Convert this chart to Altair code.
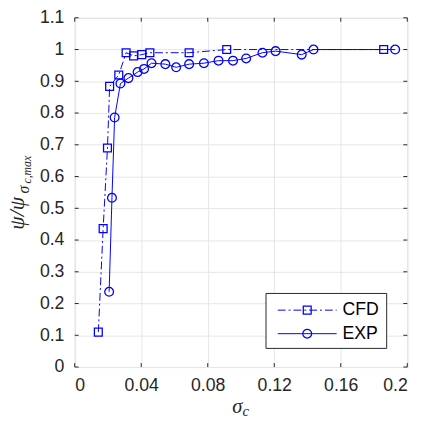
import altair as alt
import pandas as pd

# Data
cfd_x = [0.0142, 0.0171, 0.0197, 0.0210, 0.0265, 0.0309, 0.0354, 0.0403, 0.0452, 0.0688, 0.0914, 0.1858]
cfd_y = [0.110, 0.436, 0.690, 0.884, 0.920, 0.990, 0.980, 0.984, 0.990, 0.990, 1.000, 1.000]
exp_x = [0.0207, 0.0224, 0.0240, 0.0275, 0.0323, 0.0378, 0.0417, 0.0462, 0.0545, 0.0610, 0.0688,
         0.0777, 0.0865, 0.0952, 0.1031, 0.1129, 0.1208, 0.1365, 0.1436, 0.1927]
exp_y = [0.237, 0.533, 0.786, 0.893, 0.910, 0.929, 0.939, 0.957, 0.954, 0.944, 0.954,
         0.957, 0.965, 0.965, 0.972, 0.990, 0.995, 0.984, 1.000, 1.000]
x_ticks = [0, 0.04, 0.08, 0.12, 0.16, 0.2]
y_ticks = [0, 0.1, 0.2, 0.3, 0.4, 0.5, 0.6, 0.7, 0.8, 0.9, 1.0, 1.1]

W, H = 339, 356
BLUE = "#0000ff"
AX = "#262626"

cfd = pd.DataFrame({"x": cfd_x, "y": cfd_y, "i": range(len(cfd_x))})
exp = pd.DataFrame({"x": exp_x, "y": exp_y, "i": range(len(exp_x))})
xt = pd.DataFrame({"x": x_ticks})
yt = pd.DataFrame({"y": y_ticks})

xs = alt.Scale(domain=[0, 0.2], nice=False, zero=False)
ys = alt.Scale(domain=[0, 1.1], nice=False, zero=False)

common = dict(format="~g", grid=True, ticks=False, domain=False, labelOverlap=False,
              labelFontSize=18, labelFont="Liberation Sans", labelColor=AX,
              gridColor="#e6e6e6", title=None)
xax = alt.Axis(values=x_ticks, labelPadding=10, **common)
yax = alt.Axis(values=y_ticks, labelPadding=11, **common)
X = alt.X("x:Q", scale=xs, axis=xax)
Y = alt.Y("y:Q", scale=ys, axis=yax)

base_cfd = alt.Chart(cfd).encode(x=X, y=Y, order="i:O")
cfd_line = base_cfd.mark_line(color=BLUE, strokeWidth=1, strokeDash=[8, 3, 2, 3])
cfd_pts = base_cfd.mark_point(shape="square", size=64, color=BLUE, filled=False, strokeWidth=1.3, opacity=1)

base_exp = alt.Chart(exp).encode(x=X, y=Y, order="i:O")
exp_line = base_exp.mark_line(color=BLUE, strokeWidth=1)
exp_pts = base_exp.mark_point(shape="circle", size=80, color=BLUE, filled=False, strokeWidth=1.3, opacity=1)

# inward ticks (MATLAB style)
TL = 4
xt_bot = alt.Chart(xt).mark_rule(color=AX).encode(x=X, y=alt.value(H), y2=alt.value(H - TL))
xt_top = alt.Chart(xt).mark_rule(color=AX).encode(x=X, y=alt.value(0), y2=alt.value(TL))
yt_l = alt.Chart(yt).mark_rule(color=AX).encode(y=Y, x=alt.value(0), x2=alt.value(TL))
yt_r = alt.Chart(yt).mark_rule(color=AX).encode(y=Y, x=alt.value(W), x2=alt.value(W - TL))

# axis titles
one = pd.DataFrame({"a": [0]})
tfont = "Liberation Serif"
xt1 = alt.Chart(one).mark_text(text="σ", font=tfont, fontStyle="italic", fontSize=21, color=AX,
                               align="right", baseline="alphabetic").encode(x=alt.value(171), y=alt.value(403))
xt2 = alt.Chart(one).mark_text(text="c", font=tfont, fontStyle="italic", fontSize=15, color=AX,
                               align="left", baseline="alphabetic").encode(x=alt.value(171), y=alt.value(406))
yt1 = alt.Chart(one).mark_text(text="ψ/ψ", font=tfont, fontStyle="italic", fontSize=22, color=AX,
                               align="left", baseline="alphabetic", angle=270).encode(x=alt.value(-52), y=alt.value(216))
yt2 = alt.Chart(one).mark_text(text="σ", font=tfont, fontStyle="italic", fontSize=16, color=AX,
                               align="left", baseline="alphabetic", angle=270).encode(x=alt.value(-47), y=alt.value(179))
yt3 = alt.Chart(one).mark_text(text="c,max", font=tfont, fontStyle="italic", fontSize=12, color=AX,
                               align="left", baseline="alphabetic", angle=270).encode(x=alt.value(-45), y=alt.value(169))

# legend
lg_box = alt.Chart(one).mark_rect(fill="white", stroke=AX, strokeWidth=1).encode(
    x=alt.value(195), x2=alt.value(318), y=alt.value(281), y2=alt.value(337))
lg_l1 = alt.Chart(one).mark_rule(color=BLUE, strokeWidth=1, strokeDash=[8, 3, 2, 3]).encode(
    x=alt.value(207), x2=alt.value(267), y=alt.value(298))
lg_p1 = alt.Chart(one).mark_point(shape="square", size=64, color=BLUE, filled=False, strokeWidth=1.3, opacity=1).encode(
    x=alt.value(237), y=alt.value(298))
lg_t1 = alt.Chart(one).mark_text(text="CFD", font="Liberation Sans", fontSize=18, color="black",
                                 align="left", baseline="middle").encode(x=alt.value(273), y=alt.value(298))
lg_l2 = alt.Chart(one).mark_rule(color=BLUE, strokeWidth=1).encode(
    x=alt.value(207), x2=alt.value(267), y=alt.value(322))
lg_p2 = alt.Chart(one).mark_point(shape="circle", size=80, color=BLUE, filled=False, strokeWidth=1.3, opacity=1).encode(
    x=alt.value(237), y=alt.value(322))
lg_t2 = alt.Chart(one).mark_text(text="EXP", font="Liberation Sans", fontSize=18, color="black",
                                 align="left", baseline="middle").encode(x=alt.value(273), y=alt.value(322))

chart = alt.layer(
    cfd_line, exp_line, cfd_pts, exp_pts,
    xt_bot, xt_top, yt_l, yt_r,
    xt1, xt2, yt1, yt2, yt3,
    lg_box, lg_l1, lg_p1, lg_t1, lg_l2, lg_p2, lg_t2,
).properties(
    width=W, height=H,
    autosize=alt.AutoSizeParams(type="none"),
    padding={"left": 68, "top": 6, "right": 15, "bottom": 50},
).configure_view(stroke=AX, strokeWidth=1).configure_axis(
    labelFontSize=18, labelFont="Liberation Sans", labelColor=AX
).configure(background="white")

chart.save("out.html", embed_options={"renderer": "svg", "actions": False})
